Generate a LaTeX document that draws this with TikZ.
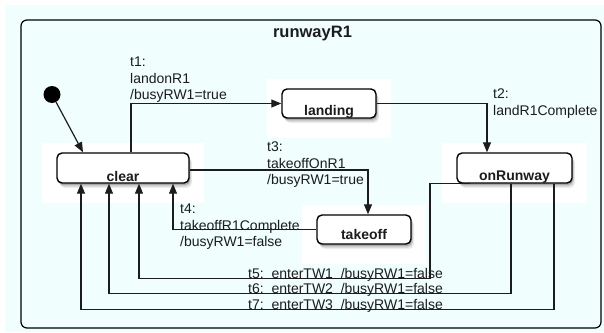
\documentclass[tikz,border=0pt]{standalone}
\usepackage{fontspec}
\setmainfont{Liberation Sans}
\usetikzlibrary{arrows.meta,shadows}

\definecolor{canvascyan}{RGB}{240,254,254}
\definecolor{inkgray}{RGB}{28,28,28}

\begin{document}
\begin{tikzpicture}[x=1pt,y=-1pt,
  softshadow/.style={
    general shadow={shadow xshift=3pt, shadow yshift=-5pt, fill=black, opacity=0.07},
    general shadow={shadow xshift=2pt, shadow yshift=-3.5pt, fill=black, opacity=0.12},
    general shadow={shadow xshift=1pt, shadow yshift=-2pt, fill=black, opacity=0.18}},
  statebox/.style={draw=black, line width=1.4pt, rounded corners=5pt, fill=white,
    inner sep=0pt, softshadow},
  statename/.style={font=\fontsize{14}{16}\selectfont\bfseries, inner sep=0pt,
    anchor=base, text=inkgray},
  trans/.style={draw=inkgray, line width=1.2pt, -{Triangle[length=10pt,width=8pt]}},
  tlabel/.style={font=\fontsize{14}{16.5}\selectfont, align=left, inner sep=0pt,
    anchor=north west, text=inkgray},
  buslabel/.style={font=\fontsize{14}{16.5}\selectfont, inner sep=0pt,
    anchor=base west, text=inkgray},
  halo/.style={fill=white, draw=none},
]
\useasboundingbox (0,0) rectangle (604,332);

% canvas and enclosing composite state
\fill[canvascyan] (5,5) rectangle (604,332);
\node[draw=black, line width=1.2pt, rounded corners=6pt, minimum width=580pt,
  minimum height=308pt, inner sep=0pt] (frame) at (311,174) {};
\node[font=\fontsize{16.5}{18}\selectfont\bfseries, anchor=base, inner sep=0pt,
  text=inkgray] (title) at (312.5,37) {runwayR1};

% white areas behind the states
\fill[halo] (42,143) rectangle (204,203);
\fill[halo] (267,79) rectangle (391,138);
\fill[halo] (442,143) rectangle (587,203);
\fill[halo] (302,205) rectangle (426,264);

% initial pseudostate
\node[circle, fill=black, minimum size=17pt, inner sep=0pt] (init) at (52,94.5) {};

% states
\node[statebox, minimum width=132pt, minimum height=30pt] (clear) at (123,168) {};
\node[statebox, minimum width=94pt, minimum height=29pt] (landing) at (329,103.5) {};
\node[statebox, minimum width=115pt, minimum height=30pt] (onRunway) at (514.5,168) {};
\node[statebox, minimum width=94pt, minimum height=29pt] (takeoff) at (364,229.5) {};

\node[statename] (clearname) at ([yshift=2pt]clear.south) {clear};
\node[statename] (landingname) at ([yshift=3pt]landing.south) {landing};
\node[statename] (onRunwayname) at ([yshift=3.5pt]onRunway.south) {onRunway};
\node[statename] (takeoffname) at ([yshift=5pt]takeoff.south) {takeoff};

% transitions
\draw[trans] (init) -- ([xshift=-40pt]clear.north);
\draw[trans] ([xshift=8pt]clear.north) |- (landing.west);
\draw[trans] (landing.east) -| ([xshift=-27.5pt]onRunway.north);
\draw[trans] ([yshift=-2pt]clear.east) -| ([xshift=4pt]takeoff.north);
\draw[trans] (takeoff.west) -| ([xshift=50pt]clear.south);
\draw[trans] ([xshift=-44.5pt]onRunway.south) -- ++(-40,0) -- ++(0,95)
  -| ([xshift=16pt]clear.south);
\draw[trans] ([xshift=-3.5pt]onRunway.south) -- ++(0,110)
  -| ([xshift=-14pt]clear.south);
\draw[trans] ([xshift=39.5pt]onRunway.south) -- ++(0,126)
  -| ([xshift=-42pt]clear.south);

% transition labels
\node[tlabel] (t1) at (130,57) {t1:\\landonR1\\/busyRW1=true};
\node[tlabel] (t2) at (493,89) {t2:\\landR1Complete};
\node[tlabel] (t3) at (267,142) {t3:\\takeoffOnR1\\/busyRW1=true};
\node[tlabel] (t4) at (180,204) {t4:\\takeoffR1Complete\\/busyRW1=false};
\node[buslabel] (t5) at (248,278) {t5:\ \ enterTW1\ \ /busyRW1=false};
\node[buslabel] (t6) at (248,293) {t6:\ \ enterTW2\ \ /busyRW1=false};
\node[buslabel] (t7) at (248,309) {t7:\ \ enterTW3\ \ /busyRW1=false};
\end{tikzpicture}
\end{document}
